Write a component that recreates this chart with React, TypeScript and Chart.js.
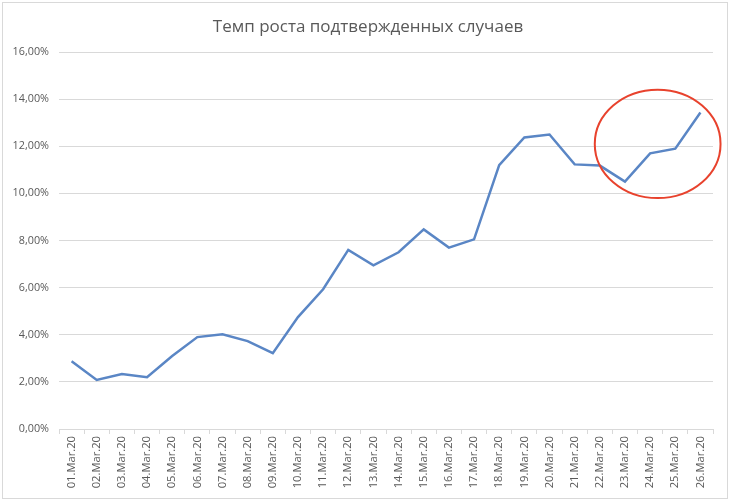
import React, { useEffect, useRef } from "react";
import { Chart, registerables } from "chart.js";

Chart.register(...registerables);

const TITLE = "Темп роста подтвержденных случаев";

const categories = [
  "01.Mar.20", "02.Mar.20", "03.Mar.20", "04.Mar.20", "05.Mar.20", "06.Mar.20",
  "07.Mar.20", "08.Mar.20", "09.Mar.20", "10.Mar.20", "11.Mar.20", "12.Mar.20",
  "13.Mar.20", "14.Mar.20", "15.Mar.20", "16.Mar.20", "17.Mar.20", "18.Mar.20",
  "19.Mar.20", "20.Mar.20", "21.Mar.20", "22.Mar.20", "23.Mar.20", "24.Mar.20",
  "25.Mar.20", "26.Mar.20",
];

const growthRate = [
  2.88, 2.08, 2.33, 2.2, 3.1, 3.9, 4.02, 3.73, 3.22, 4.75, 5.93, 7.6, 6.95,
  7.5, 8.47, 7.7, 8.05, 11.2, 12.37, 12.5, 11.23, 11.18, 10.5, 11.7, 11.9, 13.43,
];

const yTicks = [0, 2, 4, 6, 8, 10, 12, 14, 16];

// highlight ellipse, in data units: [category index, value %, radius in categories, radius in %]
const highlightCenter = [23.3, 12.1];
const highlightRadius = [2.5, 2.3];

const FONT = "'Open Sans', 'Liberation Sans', sans-serif";

const fmt = (v: number) => v.toFixed(2).replace(".", ",") + "%";

const ellipsePlugin = {
  id: "highlightEllipse",
  afterDatasetsDraw(chart: any) {
    const x = chart.scales.x;
    const y = chart.scales.y;
    const cx = x.getPixelForValue(highlightCenter[0]);
    const cy = y.getPixelForValue(highlightCenter[1]);
    const rx = Math.abs(x.getPixelForValue(highlightCenter[0] + highlightRadius[0]) - cx);
    const ry = Math.abs(y.getPixelForValue(highlightCenter[1] + highlightRadius[1]) - cy);
    const ctx = chart.ctx;
    ctx.save();
    ctx.beginPath();
    ctx.ellipse(cx, cy, rx, ry, 0, 0, Math.PI * 2);
    ctx.strokeStyle = "#e8422d";
    ctx.lineWidth = 2;
    ctx.stroke();
    ctx.restore();
  },
};

const framePlugin = {
  id: "frame",
  beforeDraw(chart: any) {
    const ctx = chart.ctx;
    ctx.save();
    ctx.fillStyle = "#ffffff";
    ctx.fillRect(0, 0, chart.width, chart.height);
    ctx.strokeStyle = "#d9d9d9";
    ctx.lineWidth = 1;
    ctx.strokeRect(2.5, 2.5, chart.width - 5, chart.height - 5);
    ctx.restore();
  },
  afterDraw(chart: any) {
    const ctx = chart.ctx;
    ctx.save();
    ctx.fillStyle = "#595959";
    ctx.font = `17px ${FONT}`;
    ctx.textAlign = "center";
    ctx.textBaseline = "middle";
    ctx.fillText(TITLE, chart.width / 2 + 3, 27);
    ctx.restore();
  },
};

export default function App() {
  const ref = useRef<HTMLCanvasElement | null>(null);

  useEffect(() => {
    if (!ref.current) return;
    const chart = new Chart(ref.current, {
      type: "line",
      data: {
        labels: categories,
        datasets: [
          {
            data: growthRate,
            borderColor: "#5a86c5",
            borderWidth: 2.5,
            pointRadius: 0,
            tension: 0,
            fill: false,
          },
        ],
      },
      options: {
        animation: false,
        responsive: false,
        devicePixelRatio: 1,
        layout: { padding: { left: 0, right: 17, top: 52, bottom: 4 } },
        plugins: {
          legend: { display: false },
          tooltip: { enabled: false },
          title: { display: false },
        },
        scales: {
          x: {
            offset: true,
            grid: {
              offset: true,
              drawOnChartArea: false,
              drawTicks: true,
              tickLength: 5,
              color: "#d9d9d9",
            },
            border: { display: true, color: "#d9d9d9", width: 1 },
            ticks: {
              color: "#595959",
              font: { family: FONT, size: 11.2 },
              minRotation: 90,
              maxRotation: 90,
              autoSkip: false,
              padding: 2,
            },
            afterFit(scale: any) {
              scale.height = 68;
            },
          },
          y: {
            min: 0,
            max: 16,
            afterBuildTicks(scale: any) {
              scale.ticks = yTicks.map((v) => ({ value: v }));
            },
            grid: { color: "#d9d9d9", drawTicks: false, lineWidth: 1 },
            border: { display: false },
            ticks: {
              color: "#595959",
              font: { family: FONT, size: 10.8 },
              padding: 10,
              callback: (v: any) => fmt(Number(v)),
            },
            afterFit(scale: any) {
              scale.width = 59;
            },
          },
        },
      },
      plugins: [framePlugin, ellipsePlugin],
    });
    return () => chart.destroy();
  }, []);

  return (
    <div style={{ position: "fixed", left: 0, top: 0, width: 730, height: 501, background: "#fff" }}>
      <canvas ref={ref} width={730} height={501} style={{ width: 730, height: 501 }} />
    </div>
  );
}
